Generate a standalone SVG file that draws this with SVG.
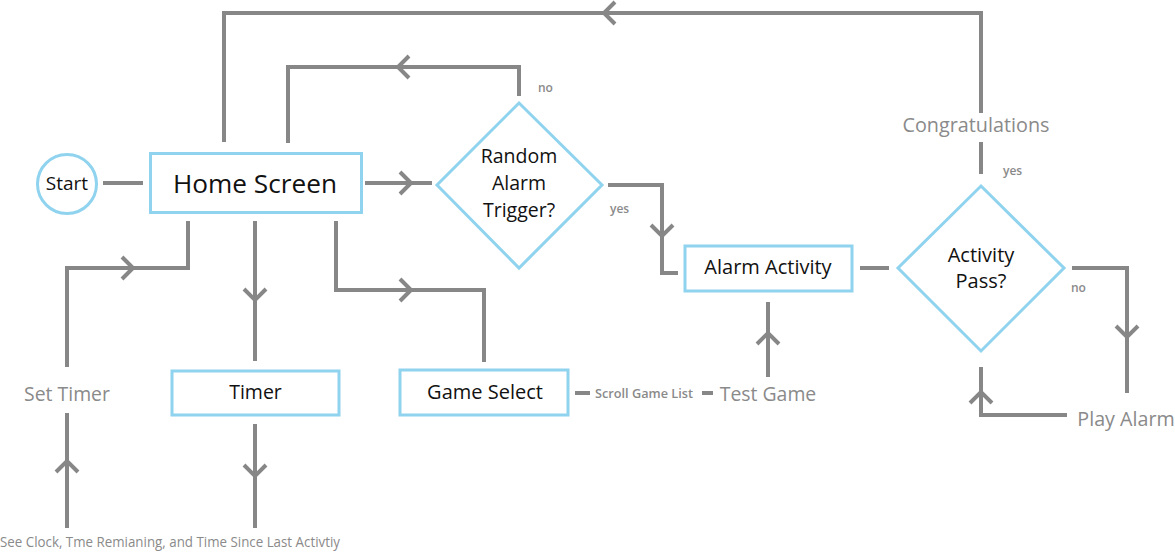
<svg xmlns="http://www.w3.org/2000/svg" xmlns:xlink="http://www.w3.org/1999/xlink" width="1175" height="552" viewBox="0 0 1175 552">
<style>
.node{fill:#fff;stroke:#8fd3ef;stroke-width:3}
.conn{fill:none;stroke:#878787;stroke-width:4;stroke-linejoin:miter;stroke-linecap:butt}
.t{font-family:"Open Sans","Noto Sans",sans-serif;fill:#111;text-anchor:middle}
.g{font-family:"Open Sans","Noto Sans",sans-serif;fill:#8a8a8a;text-anchor:middle}
.s{font-family:"Open Sans","Noto Sans",sans-serif;fill:#8a8a8a;font-size:12px;font-weight:600}
</style>
<defs>
<path id="chev" d="M-11,-11 L0,0 L-11,11" fill="none" stroke="#878787" stroke-width="4"/>
</defs>
<rect width="1175" height="552" fill="#fff"/>
<g id="connectors">
<path class="conn" d="M103,183 H143"/>
<path class="conn" d="M365,183 H432"/>
<use xlink:href="#chev" transform="translate(411,183)"/>
<path class="conn" d="M519,96 V67 H288 V143"/>
<use xlink:href="#chev" transform="translate(398,67) rotate(180)"/>
<path class="conn" d="M608,185 H662 V273 H678"/>
<use xlink:href="#chev" transform="translate(662,236) rotate(90)"/>
<path class="conn" d="M860,268 H889"/>
<path class="conn" d="M981,174 V142"/>
<path class="conn" d="M981,113 V13 H224 V142"/>
<use xlink:href="#chev" transform="translate(604,13) rotate(180)"/>
<path class="conn" d="M1072,268 H1127 V393"/>
<use xlink:href="#chev" transform="translate(1127,337) rotate(90)"/>
<path class="conn" d="M1067,415 H981 V367"/>
<use xlink:href="#chev" transform="translate(981,392) rotate(-90)"/>
<path class="conn" d="M67,367 V268 H188 V221"/>
<use xlink:href="#chev" transform="translate(133,268)"/>
<path class="conn" d="M255,221 V361"/>
<use xlink:href="#chev" transform="translate(255,300) rotate(90)"/>
<path class="conn" d="M336,221 V290 H484 V362"/>
<use xlink:href="#chev" transform="translate(411,290)"/>
<path class="conn" d="M575,393 H590"/>
<path class="conn" d="M702,393 H713"/>
<path class="conn" d="M768,377 V302"/>
<use xlink:href="#chev" transform="translate(768,333) rotate(-90)"/>
<path class="conn" d="M67,528 V413"/>
<use xlink:href="#chev" transform="translate(67,461) rotate(-90)"/>
<path class="conn" d="M255,424 V528"/>
<use xlink:href="#chev" transform="translate(255,476) rotate(90)"/>
</g>
<g id="start">
<circle class="node" cx="67" cy="184" r="29.5"/>
<text class="t" x="67" y="190" font-size="19">Start</text>
</g>
<g id="home">
<rect class="node" x="150.5" y="153.5" width="211" height="59"/>
<text class="t" x="255" y="193" font-size="26" textLength="164" lengthAdjust="spacingAndGlyphs">Home Screen</text>
</g>
<g id="random">
<polygon class="node" points="519,103 602,185 519,268 437,185"/>
<text class="t" x="519" y="163" font-size="19.5">Random</text>
<text class="t" x="519" y="190" font-size="19.5">Alarm</text>
<text class="t" x="519" y="217" font-size="19.5">Trigger?</text>
</g>
<g id="alarm">
<rect class="node" x="685" y="246" width="167" height="45"/>
<text class="t" x="768" y="274" font-size="20">Alarm Activity</text>
</g>
<g id="pass">
<polygon class="node" points="981,186 1064,268 981,351 898,268"/>
<text class="t" x="981" y="262" font-size="20">Activity</text>
<text class="t" x="981" y="288" font-size="20">Pass?</text>
</g>
<g id="timer">
<rect class="node" x="172" y="371" width="167" height="44"/>
<text class="t" x="255.5" y="399" font-size="19.5">Timer</text>
</g>
<g id="gameselect">
<rect class="node" x="400" y="370" width="168" height="45"/>
<text class="t" x="485" y="399" font-size="20">Game Select</text>
</g>
<g id="congrats">
<text class="g" x="976" y="132" font-size="19.8">Congratulations</text>
</g>
<g id="settimer">
<text class="g" x="67" y="401" font-size="19.4">Set Timer</text>
</g>
<g id="testgame">
<text class="g" x="768" y="401" font-size="19.4">Test Game</text>
</g>
<g id="playalarm">
<text class="g" x="1126" y="426" font-size="19.7">Play Alarm</text>
</g>
<g id="scroll">
<text class="s" x="595" y="398" font-size="12.5" textLength="98" lengthAdjust="spacingAndGlyphs">Scroll Game List</text>
</g>
<g id="see">
<text class="g" x="170" y="547" font-size="14" textLength="340" lengthAdjust="spacingAndGlyphs">See Clock, Tme Remianing, and Time Since Last Activtiy</text>
</g>
<g id="labels">
<text class="s" x="538" y="92">no</text>
<text class="s" x="610" y="213">yes</text>
<text class="s" x="1003" y="175">yes</text>
<text class="s" x="1071" y="292">no</text>
</g>
</svg>
